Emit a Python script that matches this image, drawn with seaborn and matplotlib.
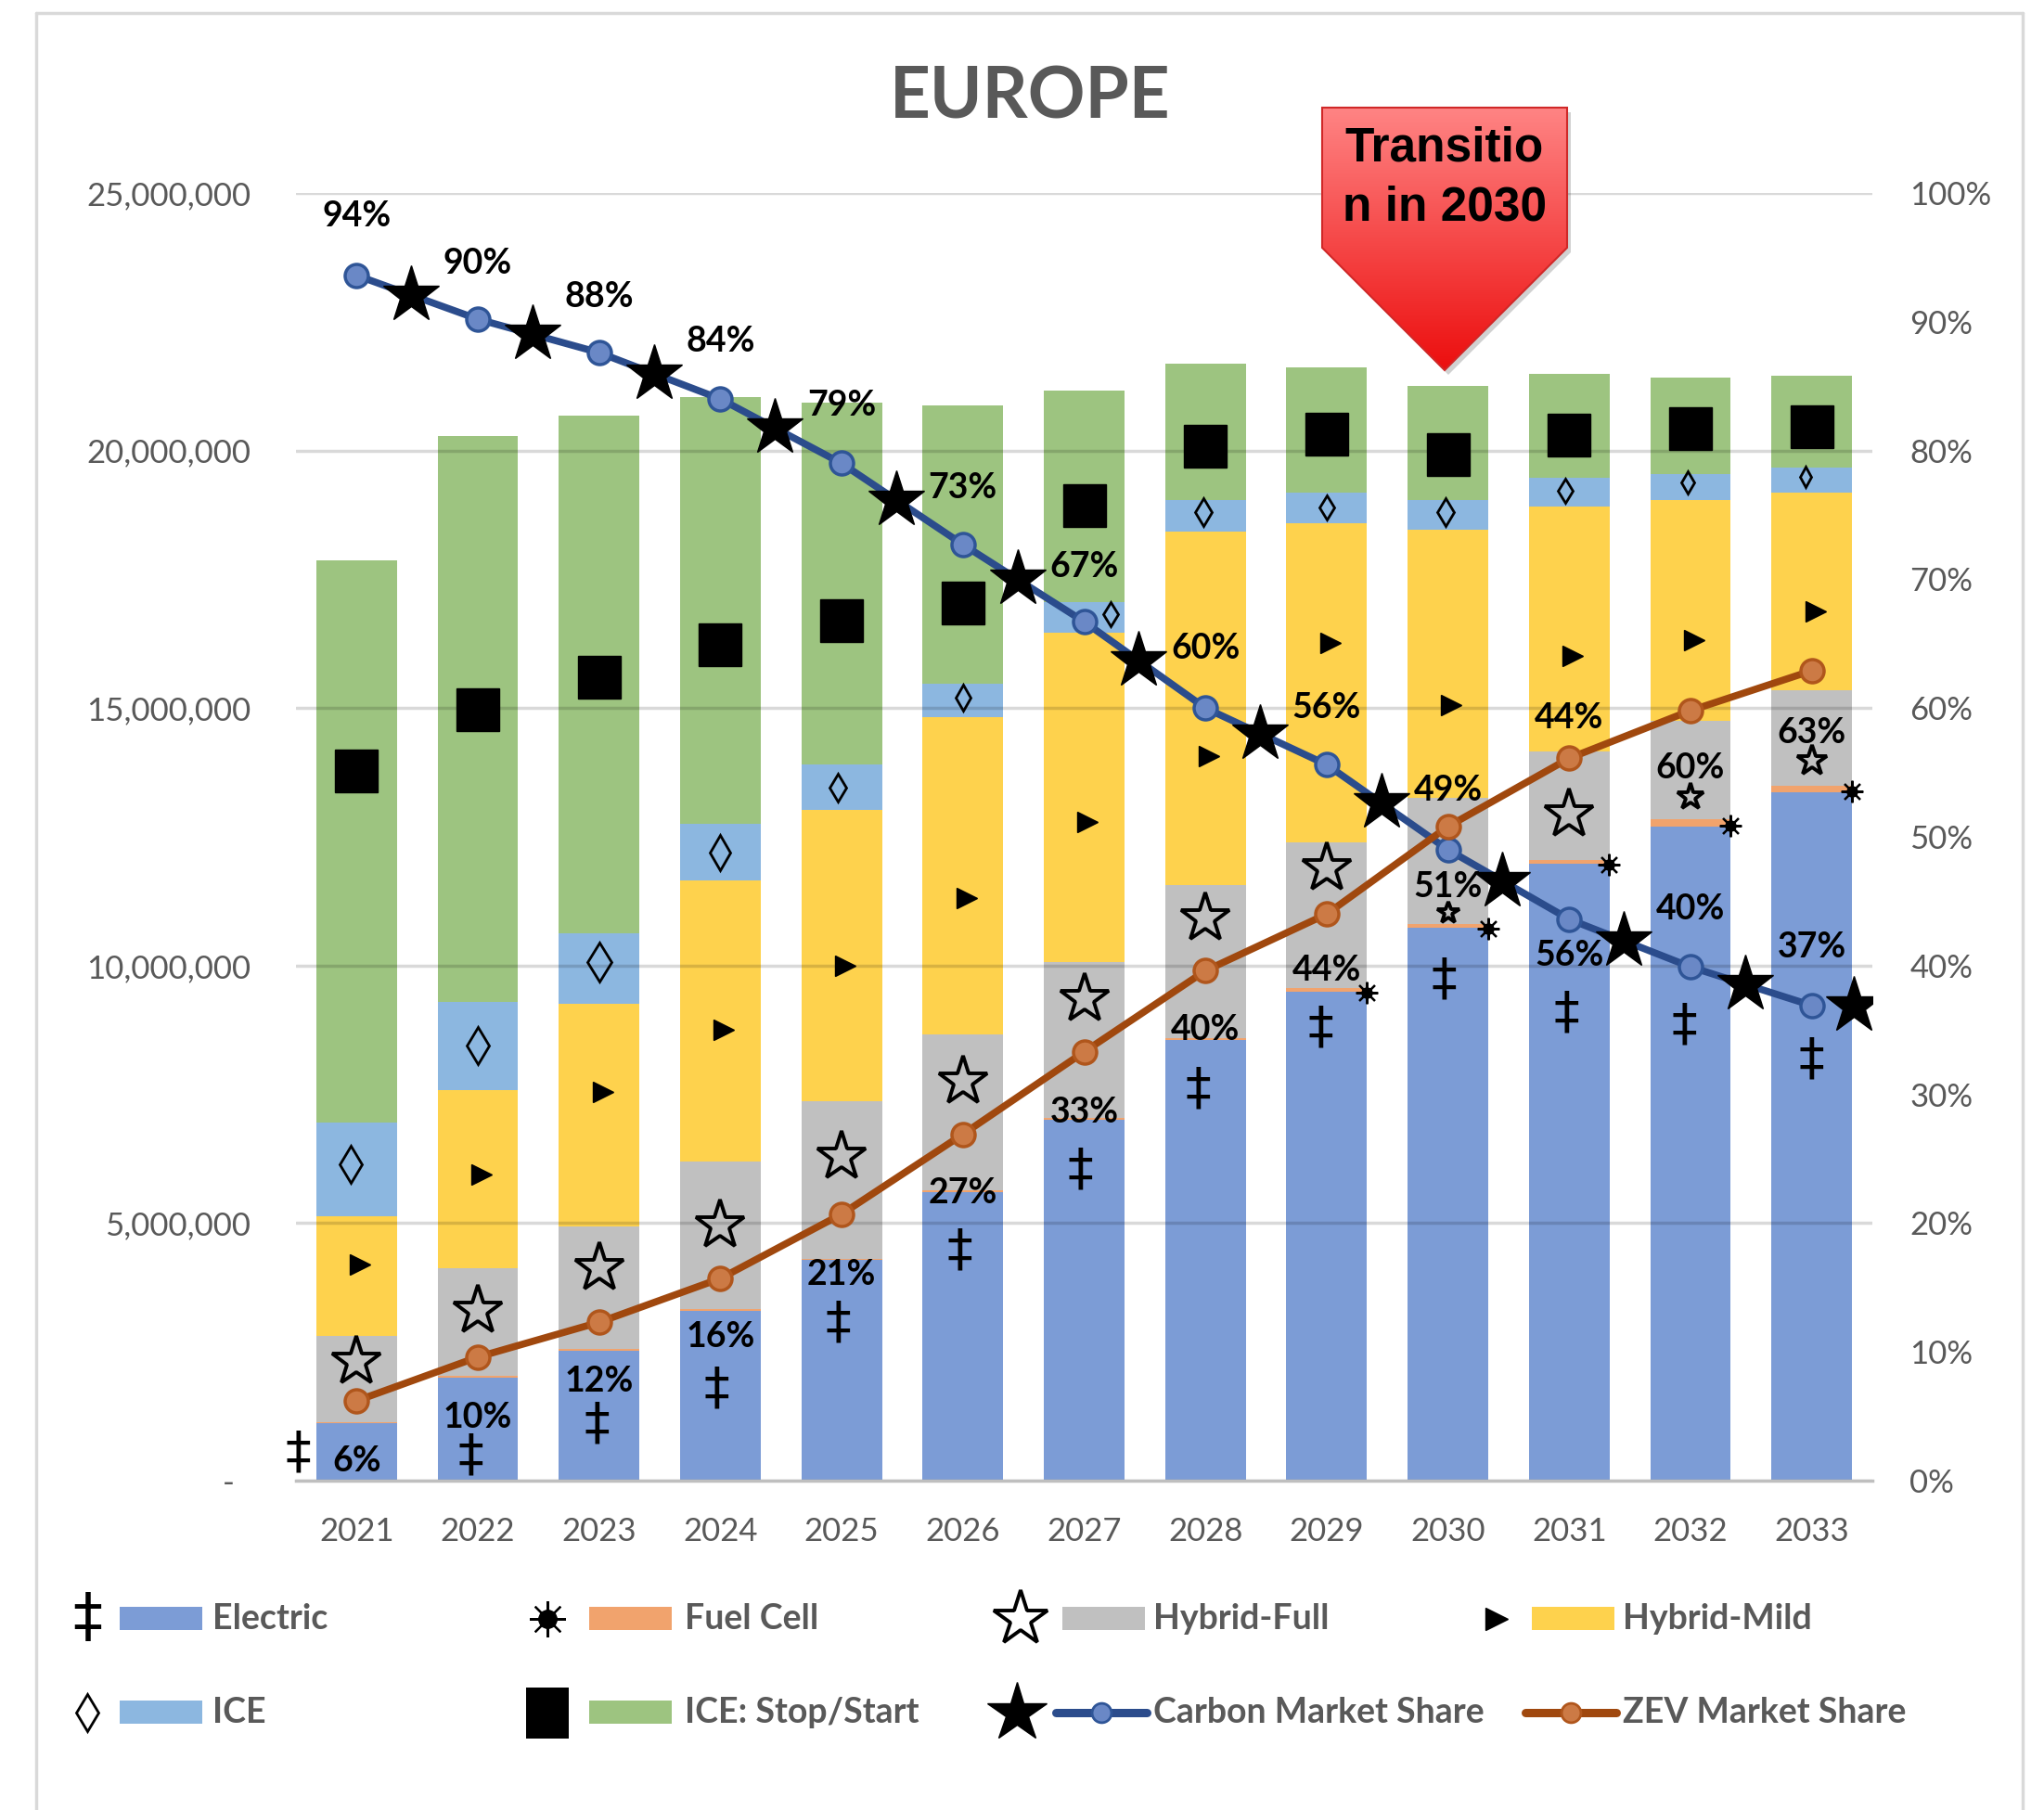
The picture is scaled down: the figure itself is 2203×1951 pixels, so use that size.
import numpy as np
import pandas as pd
import matplotlib
matplotlib.use("Agg")
import matplotlib.pyplot as plt
import seaborn as sns
from matplotlib.patches import Rectangle, Polygon
from matplotlib.lines import Line2D
from matplotlib.ticker import FuncFormatter

# ---------------- data (vehicle sales, millions) ----------------
years = [2021, 2022, 2023, 2024, 2025, 2026, 2027, 2028, 2029, 2030, 2031, 2032, 2033]
electric = [1.11, 2.00, 2.52, 3.30, 4.28, 5.60, 7.01, 8.55, 9.49, 10.74, 11.97, 12.70, 13.36]
fuel_cell = [0.02, 0.03, 0.03, 0.03, 0.03, 0.04, 0.04, 0.05, 0.08, 0.07, 0.08, 0.14, 0.13]
hybrid_full = [1.68, 2.10, 2.39, 2.87, 3.05, 3.02, 3.02, 2.96, 2.83, 2.45, 2.10, 1.91, 1.86]
hybrid_mild = [2.33, 3.45, 4.32, 5.46, 5.66, 6.17, 6.40, 6.86, 6.18, 5.20, 4.76, 4.28, 3.84]
ice = [1.82, 1.71, 1.37, 1.10, 0.88, 0.64, 0.59, 0.61, 0.61, 0.57, 0.56, 0.52, 0.47]
stop_start = [10.90, 10.99, 10.04, 8.28, 7.03, 5.41, 4.10, 2.66, 2.42, 2.22, 2.01, 1.86, 1.79]

carbon_share = [0.936, 0.902, 0.876, 0.840, 0.790, 0.727, 0.667, 0.600, 0.556, 0.490, 0.436, 0.399, 0.369]
zev_share = [0.062, 0.096, 0.123, 0.157, 0.207, 0.269, 0.333, 0.396, 0.440, 0.508, 0.561, 0.598, 0.629]

series_names = ["Electric", "Fuel Cell", "Hybrid-Full", "Hybrid-Mild", "ICE", "ICE: Stop/Start"]

# ---------------- label / symbol placement (styles, not data) ----------------
carbon_label_pos = [98.2, 94.5, 91.9, 88.5, 83.5, 77.1, 71.0, 64.6, 60.0, 53.6, 59.2, 44.4, 41.4]
zev_label_pos = [1.5, 4.9, 7.7, 11.2, 16.0, 22.3, 28.6, 35.0, 39.6, 46.1, 40.8, 55.3, 58.1]
elec_sym_y = [0.53, 0.48, 1.09, 1.77, 3.06, 4.45, 6.02, 7.59, 8.78, 9.72, 9.06, 8.83, 8.17]
elec_sym_dx = [-0.48, -0.06, -0.02, -0.03, -0.03, -0.03, -0.03, -0.06, -0.05, -0.03, -0.02, -0.05, 0.0]
hf_sym_y = [2.30, 3.29, 4.12, 4.96, 6.28, 7.74, 9.34, 10.91, 11.89, 11.03, 12.93, 13.28, 13.97]
hf_sym_ms = [40, 40, 40, 40, 40, 40, 40, 40, 40, 17.5, 40, 21.5, 24.7]
hm_sym_y = [4.20, 5.95, 7.54, 8.76, 10.00, 11.31, 12.78, 14.07, 16.27, 15.06, 16.02, 16.32, 16.88]
ice_sym_y = [6.15, 8.45, 10.07, 12.20, 13.46, 15.21, 16.83, 18.80, 18.90, 18.80, 19.21, 19.38, 19.48]
ice_sym_dx = [-0.05, 0, 0, 0, -0.03, 0, 0.22, -0.02, 0, -0.02, -0.03, -0.02, -0.05]
ice_sym_h = [40, 40, 42, 38, 30, 28, 25, 29, 25, 29, 25, 23, 21]
ss_sym_y = [13.77, 14.96, 15.59, 16.22, 16.70, 17.03, 18.93, 20.09, 20.32, 19.92, 20.29, 20.42, 20.47]

C_ELEC = "#7C9CD6"
C_FC = "#F1A36D"
C_HF = "#C0C0C0"
C_HM = "#FED24D"
C_ICE = "#8CB7E0"
C_SS = "#9DC480"
C_CARB = "#2B4C8C"
C_ZEV = "#A0480E"
GRAY_TXT = "#595959"
colors = [C_ELEC, C_FC, C_HF, C_HM, C_ICE, C_SS]

sns.set_theme(style="white")
plt.rcParams["font.family"] = ["Lato", "DejaVu Sans"]

W, H = 2203, 1951
fig = plt.figure(figsize=(W / 100, H / 100), dpi=100)
fig.patch.set_facecolor("white")

AX_L, AX_R, AX_T, AX_B = 319, 2018, 208, 1596
ax = fig.add_axes([AX_L / W, 1 - AX_B / H, (AX_R - AX_L) / W, (AX_B - AX_T) / H])
ax.set_facecolor("none")

# ---------------- stacked bars ----------------
year_lbl = [str(y) for y in years]
df = pd.DataFrame({"year": year_lbl, "Electric": electric, "Fuel Cell": fuel_cell,
                   "Hybrid-Full": hybrid_full, "Hybrid-Mild": hybrid_mild,
                   "ICE": ice, "ICE: Stop/Start": stop_start})
stack = df[series_names].cumsum(axis=1) * 1e6
for k in range(len(series_names) - 1, -1, -1):
    sns.barplot(x=df["year"], y=stack[series_names[k]], order=year_lbl, color=colors[k],
                saturation=1, width=0.665, errorbar=None, ax=ax, linewidth=0,
                edgecolor="none", zorder=1)

ax.set_xlim(-0.5, 12.5)
ax.set_ylim(0, 25e6)
ax.set_yticks(np.arange(0, 25e6 + 1, 5e6))
ax.yaxis.set_major_formatter(FuncFormatter(lambda v, p: "-  " if v == 0 else f"{v:,.0f}"))
ax.grid(axis="y", color="black", alpha=0.15, lw=2.5)
ax.grid(axis="x", visible=False)
ax.set_axisbelow("line")
for s in ["top", "left", "right"]:
    ax.spines[s].set_visible(False)
ax.spines["bottom"].set_color("#BFBFBF")
ax.spines["bottom"].set_linewidth(2.5)
ax.tick_params(axis="both", length=0, labelsize=25, labelcolor=GRAY_TXT)
ax.tick_params(axis="x", pad=28)
ax.tick_params(axis="y", pad=35)
ax.set_xlabel("")
ax.set_ylabel("")


def sun(axis, x, y, core, rays, z=4):
    axis.plot(x, y, marker=(8, 2, 0), ms=rays, mec="black", mew=1.6, ls="none", zorder=z)
    axis.plot(x, y, marker="o", ms=core, color="black", ls="none", zorder=z)


# ---------------- bar symbols ----------------
xs = np.arange(len(years))
stk = np.cumsum(np.array([electric, fuel_cell, hybrid_full, hybrid_mild, ice, stop_start]), axis=0)
for i in xs:
    ax.text(i + elec_sym_dx[i], elec_sym_y[i] * 1e6, "\u2021", ha="center", va="center",
            fontsize=40, family="DejaVu Sans", color="black", zorder=4)
    ax.plot(i, hf_sym_y[i] * 1e6, marker="*", ms=hf_sym_ms[i], mfc="none", mec="black",
            mew=2.8, ls="none", zorder=4)
    ax.plot(i + 0.03, hm_sym_y[i] * 1e6, marker=">", ms=16.5, color="black", ls="none", zorder=4)
    ax.plot(i + ice_sym_dx[i], ice_sym_y[i] * 1e6, marker="d",
            ms=ice_sym_h[i] / 1.389 / 1.414, mfc="none", mec="black", mew=2.0, ls="none", zorder=4)
    ax.plot(i, ss_sym_y[i] * 1e6, marker="s", ms=33, color="black", ls="none", zorder=4)
    if fuel_cell[i] >= 0.06:
        sun(ax, i + 0.33, (stk[0][i] + fuel_cell[i] / 2) * 1e6 - 0.05e6, 8, 17)

# ---------------- share lines ----------------
ax2 = ax.twinx()
sns.lineplot(x=xs, y=carbon_share, ax=ax2, color=C_CARB, linewidth=5.5, marker="o",
             markersize=18, markerfacecolor="#6A88C6", markeredgecolor="#2F5597",
             markeredgewidth=2.5, zorder=3)
sns.lineplot(x=xs, y=zev_share, ax=ax2, color=C_ZEV, linewidth=5.5, marker="o",
             markersize=18, markerfacecolor="#CC7A45", markeredgecolor="#B0561C",
             markeredgewidth=2.5, zorder=3)
ax2.set_xlim(-0.5, 12.5)
ax2.set_ylim(0, 1)
ax2.set_yticks(np.arange(0, 1.01, 0.1))
ax2.yaxis.set_major_formatter(FuncFormatter(lambda v, p: f"{v:.0%}"))
ax2.tick_params(axis="y", length=0, labelsize=25, labelcolor=GRAY_TXT, pad=29)
ax2.grid(False)
for s in ax2.spines.values():
    s.set_visible(False)
ax2.set_ylabel("")
ax2.set_xlabel("")

# stars along the carbon line
t = 0.45
star_x = [i + t for i in range(len(years) - 1)] + [len(years) - 1 + 0.35]
star_y = [carbon_share[i] + t * (carbon_share[i + 1] - carbon_share[i]) for i in range(len(years) - 1)] + [carbon_share[-1]]
ax2.plot(star_x, star_y, ls="none", marker="*", ms=46, color="black", zorder=5)

for i in xs:
    ax2.text(i, carbon_label_pos[i] / 100, f"{carbon_share[i]:.0%}", ha="center", va="center",
             fontsize=27, fontweight="bold", color="black", zorder=7)
    ax2.text(i, zev_label_pos[i] / 100, f"{zev_share[i]:.0%}", ha="center", va="center",
             fontsize=27, fontweight="bold", color="black", zorder=7)

# ---------------- overlay: frame, title, callout, legend ----------------
ov = fig.add_axes([0, 0, 1, 1], zorder=10)
ov.set_xlim(0, W)
ov.set_ylim(H, 0)
ov.axis("off")

bc = "#D9D9D9"
ov.plot([39, 39], [14, H + 5], color=bc, lw=2.5)
ov.plot([39, 2180], [14, 14], color=bc, lw=2.5)
ov.plot([2180, 2180], [14, H + 5], color=bc, lw=2.5)

ov.text(1110, 105, "EUROPE", ha="center", va="center", fontsize=55, fontweight="bold", color=GRAY_TXT)

# callout arrow
pts = [(1425, 116), (1689, 116), (1689, 267), (1557, 399), (1425, 267)]
shadow = Polygon([(x + 4, y + 5) for x, y in pts], closed=True, fc=(0, 0, 0, 0.18), ec="none")
ov.add_patch(shadow)
top_c = np.array([255, 132, 132]) / 255
bot_c = np.array([236, 14, 14]) / 255
grad = np.linspace(0, 1, 256)[:, None, None]
img = top_c[None, None, :] * (1 - grad) + bot_c[None, None, :] * grad
im = ov.imshow(img, extent=(1425, 1689, 399, 116), origin="upper", aspect="auto", zorder=2)
clip = Polygon(pts, closed=True, fc="none", ec="none", transform=ov.transData)
ov.add_patch(clip)
im.set_clip_path(clip)
ov.add_patch(Polygon(pts, closed=True, fc="none", ec="#D02828", lw=1.5, zorder=3))
ov.set_xlim(0, W)
ov.set_ylim(H, 0)
ov.text(1557, 160, "Transitio", ha="center", va="center", fontsize=37, fontweight="bold",
        family="Liberation Sans", color="black", zorder=4)
ov.text(1557, 224, "n in 2030", ha="center", va="center", fontsize=37, fontweight="bold",
        family="Liberation Sans", color="black", zorder=4)

# legend
rows = [1745, 1846]
sym_x = [94, 590, 1100, 1613]
patch_x = [129, 635, 1145, 1651]
text_x = [229, 738, 1243, 1749]
leg_kw = dict(ha="left", va="center", fontsize=27, fontweight="bold", color=GRAY_TXT)

# row 1
ov.text(sym_x[0], rows[0], "\u2021", ha="center", va="center", fontsize=46,
        family="DejaVu Sans", color="black")
sun(ov, sym_x[1], rows[0], 14, 28, z=3)
ov.plot(sym_x[2], rows[0], marker="*", ms=44, mfc="none", mec="black", mew=2.8)
ov.plot(sym_x[3], rows[0], marker=">", ms=17, color="black")
for c, col in enumerate([C_ELEC, C_FC, C_HF, C_HM]):
    ov.add_patch(Rectangle((patch_x[c], rows[0] - 12.5), 89, 25, fc=col, ec="none"))
    ov.text(text_x[c], rows[0], series_names[c], **leg_kw)

# row 2
ov.plot(sym_x[0], rows[1], marker="d", ms=40 / 1.389 / 1.414, mfc="none", mec="black", mew=2.0)
ov.add_patch(Rectangle((sym_x[1] - 23, rows[1] - 27), 46, 55, fc="black", ec="none"))
ov.plot(sym_x[2] - 4, rows[1], marker="*", ms=48, color="black")
for c, col in enumerate([C_ICE, C_SS]):
    ov.add_patch(Rectangle((patch_x[c], rows[1] - 12.5), 89, 25, fc=col, ec="none"))
    ov.text(text_x[c], rows[1], series_names[4 + c], **leg_kw)
ov.add_line(Line2D([1138, 1236], [rows[1], rows[1]], color=C_CARB, lw=6.5, solid_capstyle="round"))
ov.plot(1187, rows[1], marker="o", ms=15, mfc="#6A88C6", mec="#2F5597", mew=2)
ov.text(text_x[2], rows[1], "Carbon Market Share", **leg_kw)
ov.add_line(Line2D([1644, 1742], [rows[1], rows[1]], color=C_ZEV, lw=6.5, solid_capstyle="round"))
ov.plot(1693, rows[1], marker="o", ms=15, mfc="#CC7A45", mec="#B0561C", mew=2)
ov.text(text_x[3], rows[1], "ZEV Market Share", **leg_kw)

fig.savefig("out.png", dpi=100, facecolor="white")
